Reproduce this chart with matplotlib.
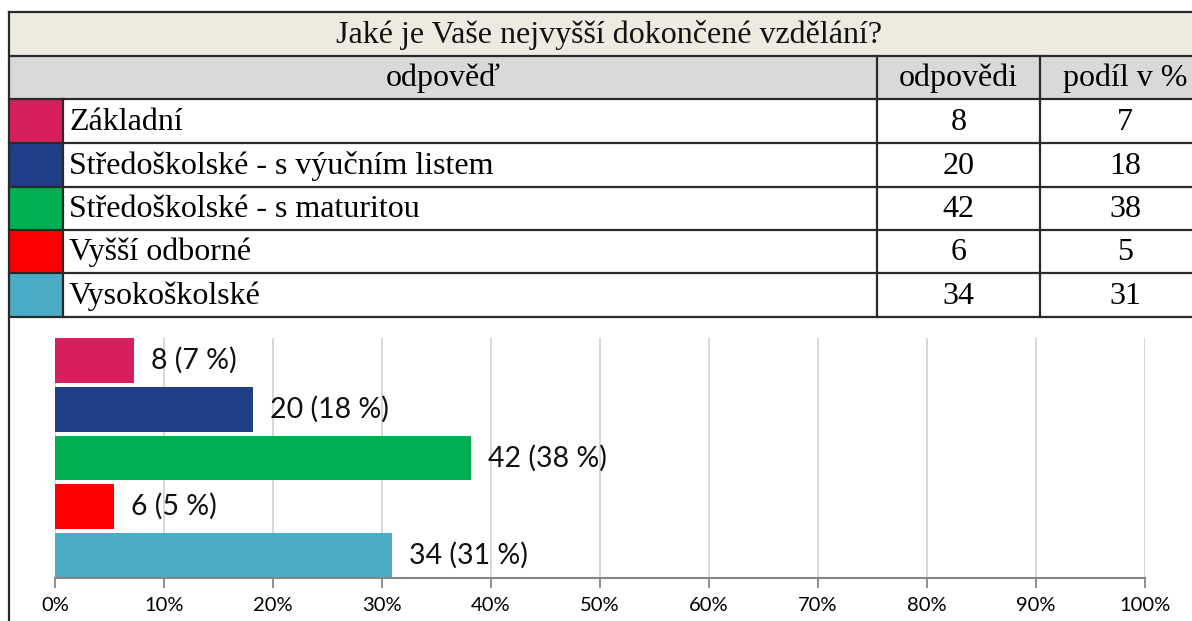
import numpy as np
import matplotlib
matplotlib.use("Agg")
import matplotlib.pyplot as plt
from matplotlib.patches import Rectangle

# data
question = "Jaké je Vaše nejvyšší dokončené vzdělání?"
headers = ["odpověď", "odpovědi", "podíl v %"]
categories = ["Základní", "Středoškolské - s výučním listem", "Středoškolské - s maturitou",
              "Vyšší odborné", "Vysokoškolské"]
counts = [8, 20, 42, 6, 34]
shares = [7, 18, 38, 5, 31]
tick_labels = ["0%", "10%", "20%", "30%", "40%", "50%", "60%", "70%", "80%", "90%", "100%"]

colors = ["#D81F5E", "#1F3F89", "#00AF50", "#FF0000", "#4BACC6"]

W, H = 1192, 621
fig = plt.figure(figsize=(W / 100, H / 100), dpi=100)

# --- table drawn in pixel coordinates ---
bg = fig.add_axes([0, 0, 1, 1])
bg.set_xlim(0, W)
bg.set_ylim(H, 0)
bg.axis("off")

serif = "Liberation Serif"
line_kw = dict(color="#2a2a2a", lw=1.6)
x_left, x_sq, x_c1, x_c2, x_right = 9, 63, 877, 1040, 1210
rows_y = [12, 56, 99, 143, 187, 230, 273, 317]

bg.add_patch(Rectangle((x_left, rows_y[0]), x_right - x_left, rows_y[1] - rows_y[0],
                       facecolor="#EDEBE0", edgecolor="none"))
bg.add_patch(Rectangle((x_left, rows_y[1]), x_right - x_left, rows_y[2] - rows_y[1],
                       facecolor="#D9D9D9", edgecolor="none"))
for i, c in enumerate(colors):
    y0 = rows_y[i + 2]
    bg.add_patch(Rectangle((x_left, y0), x_sq - x_left, rows_y[i + 3] - y0,
                           facecolor=c, edgecolor="none"))

for y in rows_y:
    bg.plot([x_left, x_right], [y, y], **line_kw)
bg.plot([x_left, x_left], [rows_y[0], H], **line_kw)
bg.plot([x_sq, x_sq], [rows_y[2], rows_y[-1]], **line_kw)
for x in (x_c1, x_c2):
    bg.plot([x, x], [rows_y[1], rows_y[-1]], **line_kw)

fs = 23
bg.text((x_left + x_right) / 2, (rows_y[0] + rows_y[1]) / 2 + 1, question,
        ha="center", va="center", fontsize=fs, family=serif, color="#111")
hdr_y = (rows_y[1] + rows_y[2]) / 2 + 1
bg.text((x_left + x_c1) / 2, hdr_y, headers[0], ha="center", va="center", fontsize=fs, family=serif)
bg.text((x_c1 + x_c2) / 2, hdr_y, headers[1], ha="center", va="center", fontsize=fs, family=serif)
bg.text((x_c2 + x_right) / 2, hdr_y, headers[2], ha="center", va="center", fontsize=fs, family=serif)
for i, cat in enumerate(categories):
    yc = (rows_y[i + 2] + rows_y[i + 3]) / 2 + 1
    bg.text(x_sq + 6, yc, cat, ha="left", va="center", fontsize=fs, family=serif)
    bg.text((x_c1 + x_c2) / 2, yc, str(counts[i]), ha="center", va="center", fontsize=fs, family=serif)
    bg.text((x_c2 + x_right) / 2, yc, str(shares[i]), ha="center", va="center", fontsize=fs, family=serif)

# --- bar chart ---
total = sum(counts)
pct = [c / total * 100 for c in counts]

ax = fig.add_axes([55 / W, (H - 578) / H, 1090 / W, 240 / H])
ypos = np.arange(len(categories))
ax.barh(ypos, pct, height=0.92, color=colors, zorder=3)
ax.set_xlim(0, 100)
ax.set_ylim(len(categories) - 0.54, -0.46)
ax.set_xticks(np.arange(0, 101, 10))
ax.set_xticklabels(tick_labels, fontsize=14.5, family="Lato")
ax.set_yticks([])
ax.grid(axis="x", color="#D4D4D4", lw=1.3, zorder=0)
for s in ("top", "right", "left"):
    ax.spines[s].set_visible(False)
ax.spines["bottom"].set_color("#868686")
ax.spines["bottom"].set_linewidth(1.5)
ax.spines["bottom"].set_zorder(4)
ax.tick_params(axis="x", direction="out", length=7, width=1.3, color="#868686", pad=7)
ax.set_facecolor("none")

for i, (c, s, p) in enumerate(zip(counts, shares, pct)):
    ax.annotate(f"{c} ({s} %)", (p, i), xytext=(17, 0), textcoords="offset pixels",
                ha="left", va="center", fontsize=20.5, family="Lato", color="#111")

fig.savefig("out.png", dpi=100)
